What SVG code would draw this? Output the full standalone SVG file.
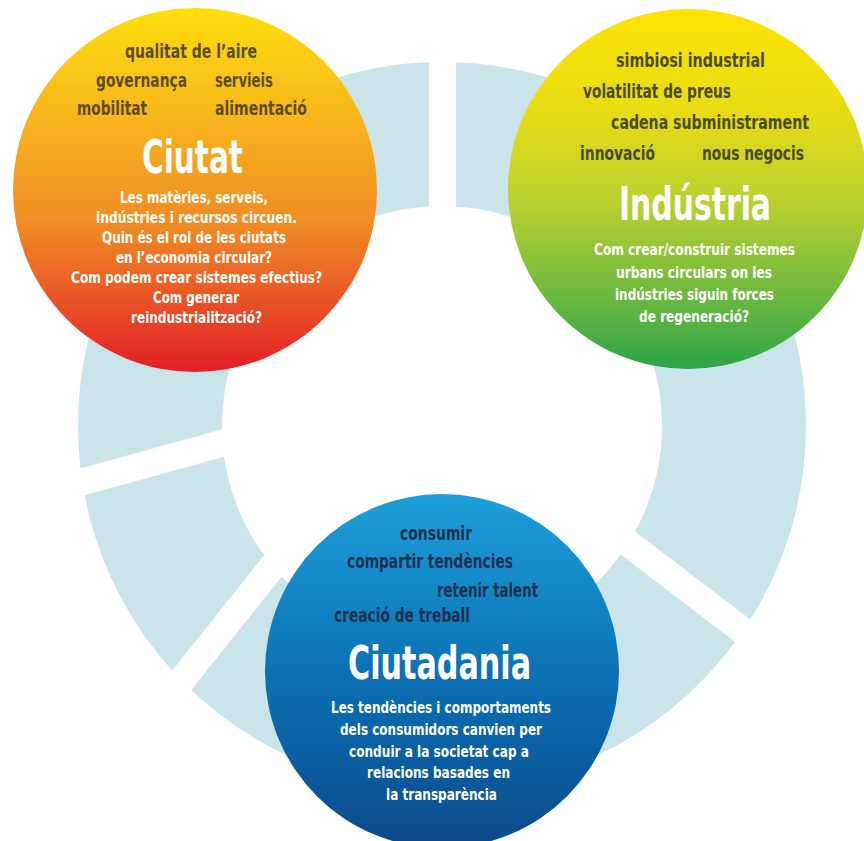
<svg xmlns="http://www.w3.org/2000/svg" width="864" height="841" viewBox="0 0 864 841">
<defs>
<linearGradient id="gOrange" x1="0" y1="0" x2="0" y2="1">
<stop offset="0" stop-color="#fddf0c"/>
<stop offset="0.35" stop-color="#f6ae1f"/>
<stop offset="0.6" stop-color="#f08a24"/>
<stop offset="1" stop-color="#e31e28"/>
</linearGradient>
<linearGradient id="gGreen" x1="0" y1="0" x2="0" y2="1">
<stop offset="0" stop-color="#fde300"/>
<stop offset="0.3" stop-color="#e6dc15"/>
<stop offset="0.55" stop-color="#b7cf30"/>
<stop offset="0.8" stop-color="#6bb83f"/>
<stop offset="1" stop-color="#2ea449"/>
</linearGradient>
<linearGradient id="gBlue" x1="0" y1="0" x2="0" y2="1">
<stop offset="0" stop-color="#1ea0da"/>
<stop offset="0.5" stop-color="#0b72b5"/>
<stop offset="1" stop-color="#0b4a8a"/>
</linearGradient>
</defs>
<style>
text{font-family:"Liberation Sans Narrow","DejaVu Sans Condensed","Liberation Sans",Roboto,sans-serif;font-stretch:condensed}
.kw{font-size:20px;font-weight:bold}
.ko{fill:#5e4c22}
.kg{fill:#4d4b22}
.kb{fill:#1c3150}
.title{font-size:46px;font-weight:bold;fill:#fff}
.body{font-size:15px;font-weight:bold;fill:#fff}
.gap{stroke:#fff;stroke-width:27;fill:none}
</style>
<rect width="864" height="841" fill="#fff"/>
<g id="ring">
<circle cx="442" cy="426" r="292" fill="none" stroke="#c9e5e9" stroke-width="144"/>
<line class="gap" x1="442.5" y1="40" x2="442.5" y2="230"/>
<line class="gap" x1="60" y1="488" x2="260" y2="433"/>
<line class="gap" x1="300" y1="532" x2="150" y2="720"/>
<line class="gap" x1="590" y1="514" x2="790" y2="667"/>
</g>
<g id="ciutat">
<circle cx="195" cy="190" r="182" fill="url(#gOrange)"/>
<text class="kw ko" x="125" y="58" textLength="132" lengthAdjust="spacingAndGlyphs">qualitat de l’aire</text>
<text class="kw ko" x="96" y="87" textLength="91" lengthAdjust="spacingAndGlyphs">governança</text>
<text class="kw ko" x="215" y="87" textLength="58" lengthAdjust="spacingAndGlyphs">servieis</text>
<text class="kw ko" x="77" y="115" textLength="70" lengthAdjust="spacingAndGlyphs">mobilitat</text>
<text class="kw ko" x="215" y="115" textLength="92" lengthAdjust="spacingAndGlyphs">alimentació</text>
<text class="title" x="142" y="173" textLength="101" lengthAdjust="spacingAndGlyphs">Ciutat</text>
<text class="body" x="120" y="203" textLength="148" lengthAdjust="spacingAndGlyphs">Les matèries, serveis,</text>
<text class="body" x="96" y="223" textLength="201" lengthAdjust="spacingAndGlyphs">indústries i recursos circuen.</text>
<text class="body" x="102" y="243" textLength="184" lengthAdjust="spacingAndGlyphs">Quin és el rol de les ciutats</text>
<text class="body" x="116" y="263" textLength="156" lengthAdjust="spacingAndGlyphs">en l’economia circular?</text>
<text class="body" x="71" y="283" textLength="251" lengthAdjust="spacingAndGlyphs">Com podem crear sistemes efectius?</text>
<text class="body" x="153" y="303" textLength="86" lengthAdjust="spacingAndGlyphs">Com generar</text>
<text class="body" x="131" y="323" textLength="131" lengthAdjust="spacingAndGlyphs">reindustrialització?</text>
</g>
<g id="industria">
<circle cx="688" cy="189" r="180" fill="url(#gGreen)"/>
<text class="kw kg" x="616" y="67" textLength="149" lengthAdjust="spacingAndGlyphs">simbiosi industrial</text>
<text class="kw kg" x="583" y="98" textLength="148" lengthAdjust="spacingAndGlyphs">volatilitat de preus</text>
<text class="kw kg" x="611" y="129" textLength="198" lengthAdjust="spacingAndGlyphs">cadena subministrament</text>
<text class="kw kg" x="580" y="160" textLength="75" lengthAdjust="spacingAndGlyphs">innovació</text>
<text class="kw kg" x="702" y="160" textLength="102" lengthAdjust="spacingAndGlyphs">nous negocis</text>
<text class="title" x="619" y="220" textLength="152" lengthAdjust="spacingAndGlyphs">Indústria</text>
<text class="body" x="594" y="255" textLength="201" lengthAdjust="spacingAndGlyphs">Com crear/construir sistemes</text>
<text class="body" x="616" y="278" textLength="156" lengthAdjust="spacingAndGlyphs">urbans circulars on les</text>
<text class="body" x="615" y="300" textLength="159" lengthAdjust="spacingAndGlyphs">indústries siguin forces</text>
<text class="body" x="639" y="322" textLength="110" lengthAdjust="spacingAndGlyphs">de regeneració?</text>
</g>
<g id="ciutadania">
<circle cx="442" cy="671" r="177" fill="url(#gBlue)"/>
<text class="kw kb" x="400" y="540" textLength="72" lengthAdjust="spacingAndGlyphs">consumir</text>
<text class="kw kb" x="347" y="568" textLength="166" lengthAdjust="spacingAndGlyphs">compartir tendències</text>
<text class="kw kb" x="437" y="597" textLength="101" lengthAdjust="spacingAndGlyphs">retenir talent</text>
<text class="kw kb" x="334" y="622" textLength="136" lengthAdjust="spacingAndGlyphs">creació de treball</text>
<text class="title" x="348" y="679" textLength="183" lengthAdjust="spacingAndGlyphs">Ciutadania</text>
<text class="body" x="331" y="713" textLength="220" lengthAdjust="spacingAndGlyphs">Les tendències i comportaments</text>
<text class="body" x="340" y="735" textLength="202" lengthAdjust="spacingAndGlyphs">dels consumidors canvien per</text>
<text class="body" x="349" y="757" textLength="180" lengthAdjust="spacingAndGlyphs">conduir a la societat cap a</text>
<text class="body" x="367" y="778" textLength="143" lengthAdjust="spacingAndGlyphs">relacions basades en</text>
<text class="body" x="386" y="800" textLength="111" lengthAdjust="spacingAndGlyphs">la transparència</text>
</g>
</svg>
